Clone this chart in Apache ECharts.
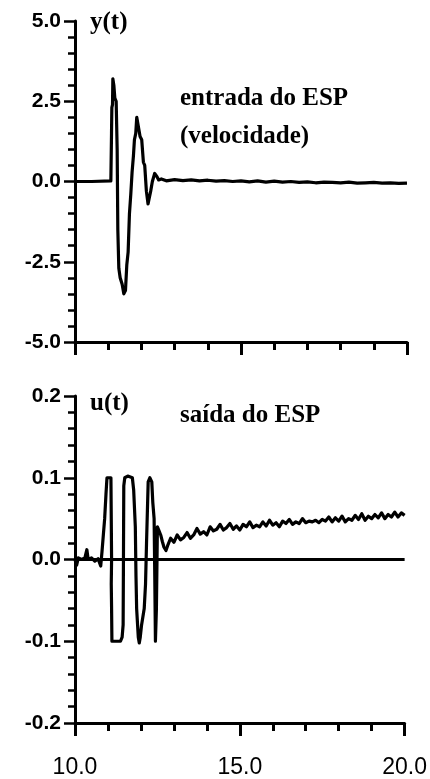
<!DOCTYPE html>
<html>
<head>
<meta charset="utf-8">
<script src="https://cdn.jsdelivr.net/npm/echarts@6/dist/echarts.min.js"></script>
<style>
  html, body { margin: 0; padding: 0; background: #fff; }
  #chart { width: 430px; height: 779px; }
</style>
</head>
<body>
<div id="chart"></div>
<script>
// y(t): entrada do ESP (velocidade)
const yTime = [10.0, 10.5, 11.08, 11.1, 11.11, 11.13, 11.14, 11.17, 11.2, 11.24, 11.27, 11.29, 11.32, 11.36,
  11.42, 11.47, 11.52, 11.56, 11.6, 11.64, 11.68, 11.72, 11.76, 11.79, 11.83, 11.86, 11.92, 11.96, 12.01,
  12.06, 12.1, 12.15, 12.2, 12.24, 12.28, 12.33, 12.4, 12.47, 12.52, 12.6, 12.75,
  13.0, 13.25, 13.5, 13.75, 14.0, 14.25, 14.5, 14.75, 15.0, 15.25, 15.5, 15.75, 16.0, 16.25, 16.5, 16.75,
  17.0, 17.25, 17.5, 17.75, 18.0, 18.25, 18.5, 18.75, 19.0, 19.25, 19.5, 19.75, 20.0]
const yValue = [0, 0, 0.02, 1.5, 2.3, 2.4, 3.2, 3.0, 2.6, 2.5, 1.0, -1.5, -2.7, -3.0,
  -3.2, -3.5, -3.4, -2.6, -2.2, -1.0, -0.4, 0.3, 0.8, 1.3, 1.5, 2.0, 2.0, 1.4, 1.3,
  0.6, 0.5, -0.3, -0.7, -0.5, -0.3, 0.0, 0.25, 0.15, 0.05, 0.08, 0.02,
  0.06, 0.03, 0.05, 0.02, 0.04, 0.01, 0.03, 0.0, 0.02, -0.01, 0.02, -0.02, 0.01, -0.02, 0.0, -0.03,
  -0.01, -0.04, -0.02, -0.03, -0.04, -0.02, -0.05, -0.04, -0.03, -0.05, -0.04, -0.06, -0.05]

// u(t): saida do ESP
const uTime = [10.0, 10.05, 10.1, 10.2, 10.3, 10.36, 10.4, 10.5, 10.6, 10.7, 10.78, 10.82, 10.86, 10.9, 10.94,
  10.97, 11.09, 11.11, 11.1, 11.11, 11.12, 11.38, 11.43, 11.46, 11.47, 11.48, 11.51, 11.6, 11.74, 11.78,
  11.83, 11.85, 11.87, 11.92, 11.95, 11.98, 12.02, 12.1, 12.14, 12.17, 12.22, 12.27, 12.33, 12.36, 12.4,
  12.42, 12.44, 12.47, 12.5, 12.55, 12.6, 12.65, 12.7, 12.76, 12.82,
  12.9, 13.0, 13.1, 13.2, 13.3, 13.4, 13.5, 13.6, 13.7, 13.8, 13.9, 14.0, 14.1, 14.2, 14.3, 14.4, 14.5,
  14.6, 14.7, 14.8, 14.9, 15.0, 15.1, 15.2, 15.3, 15.4, 15.5, 15.6, 15.7, 15.8, 15.9, 16.0, 16.1, 16.2,
  16.3, 16.4, 16.5, 16.6, 16.7, 16.8, 16.9, 17.0, 17.1, 17.2, 17.3, 17.4, 17.5, 17.6, 17.7, 17.8, 17.9,
  18.0, 18.1, 18.2, 18.3, 18.4, 18.5, 18.6, 18.7, 18.8, 18.9, 19.0, 19.1, 19.2, 19.3, 19.4, 19.5, 19.6,
  19.7, 19.8, 19.9, 20.0]
const uValue = [0, -0.007, 0.002, 0.0, 0.002, 0.012, 0.0, 0.002, -0.002, 0.001, -0.008, 0.01, 0.03, 0.05, 0.08,
  0.1, 0.1, 0.0, -0.03, -0.06, -0.1, -0.1, -0.095, -0.08, 0.0, 0.09, 0.1, 0.102, 0.1, 0.085,
  0.04, -0.02, -0.06, -0.095, -0.102, -0.095, -0.08, -0.06, -0.03, 0.02, 0.095, 0.1, 0.095, 0.07, 0.05,
  -0.02, -0.1, -0.06, 0.04, 0.035, 0.03, 0.022, 0.015, 0.011, 0.018,
  0.026, 0.021, 0.030, 0.024, 0.027, 0.033, 0.026, 0.030, 0.038, 0.031, 0.034, 0.030, 0.040, 0.035, 0.037, 0.043, 0.036,
  0.039, 0.044, 0.037, 0.041, 0.036, 0.043, 0.040, 0.046, 0.039, 0.042, 0.040, 0.046, 0.041, 0.048, 0.042, 0.045, 0.040,
  0.047, 0.044, 0.049, 0.043, 0.046, 0.044, 0.050, 0.045, 0.047, 0.046, 0.048, 0.045, 0.049, 0.047, 0.052, 0.046, 0.051,
  0.047, 0.053, 0.046, 0.050, 0.048, 0.054, 0.049, 0.056, 0.048, 0.053, 0.050, 0.055, 0.051, 0.057, 0.050, 0.055, 0.052,
  0.058, 0.052, 0.057, 0.054]

const xTicks = { min: 10, max: 20, interval: 5 }
const yTicks = { min: -5, max: 5, interval: 2.5 }
const uTicks = { min: -0.2, max: 0.2, interval: 0.1 }

const pair = (ts, vs) => ts.map((t, i) => [t, vs[i]])
const fmt = v => (Math.abs(v) < 1e-9 ? 0 : v).toFixed(1)

const black = '#000'
const yLabel = {
  fontFamily: 'Liberation Sans', fontWeight: 'bold', fontSize: 21, color: black, margin: 14,
  formatter: fmt
}

function xAxisFor(gridIndex, showLabel) {
  return {
    type: 'value', gridIndex: gridIndex,
    min: xTicks.min, max: xTicks.max, interval: xTicks.interval,
    axisLine: { onZero: false, lineStyle: { color: black, width: 3 } },
    axisTick: { length: 13, lineStyle: { color: black, width: 3 } },
    minorTick: { show: true, splitNumber: 5, length: 8, lineStyle: { color: black, width: 3 } },
    splitLine: { show: false },
    axisLabel: {
      show: showLabel, margin: 33, fontFamily: 'Liberation Sans', fontSize: 23, color: black,
      formatter: fmt
    }
  }
}

function yAxisFor(gridIndex, ticks) {
  return {
    type: 'value', gridIndex: gridIndex,
    min: ticks.min, max: ticks.max, interval: ticks.interval,
    axisLine: { onZero: false, lineStyle: { color: black, width: 3 } },
    axisTick: { length: 11, lineStyle: { color: black, width: 2.5 } },
    minorTick: { show: true, splitNumber: 5, length: 7, lineStyle: { color: black, width: 2.5 } },
    splitLine: { show: false },
    axisLabel: yLabel
  }
}

const textStyle = (text, x, y) => ({
  type: 'text', left: x, top: y,
  style: { text: text, font: 'bold 25px "Liberation Serif"', fill: black }
})

const chart = echarts.init(document.getElementById('chart'))
chart.setOption({
  animation: false,
  backgroundColor: '#fff',
  grid: [
    { left: 75, right: 23, top: 21, height: 321 },
    { left: 75, right: 23, top: 396, height: 332 }
  ],
  xAxis: [xAxisFor(0, false), xAxisFor(1, true)],
  yAxis: [yAxisFor(0, yTicks), yAxisFor(1, uTicks)],
  graphic: [
    textStyle('y(t)', 90, 10),
    textStyle('entrada do ESP', 180, 86),
    textStyle('(velocidade)', 180, 124),
    textStyle('u(t)', 90, 391),
    textStyle('saída do ESP', 180, 403)
  ],
  series: [
    {
      type: 'line', xAxisIndex: 0, yAxisIndex: 0,
      data: pair(yTime, yValue),
      showSymbol: false,
      lineStyle: { color: black, width: 3.2, join: 'round' }
    },
    {
      type: 'line', xAxisIndex: 1, yAxisIndex: 1,
      data: pair(uTime, uValue),
      showSymbol: false,
      lineStyle: { color: black, width: 3.2, join: 'round' },
      markLine: {
        silent: true, symbol: 'none', label: { show: false },
        lineStyle: { color: black, width: 3, type: 'solid' },
        data: [{ yAxis: 0 }]
      }
    }
  ]
})
</script>
</body>
</html>
